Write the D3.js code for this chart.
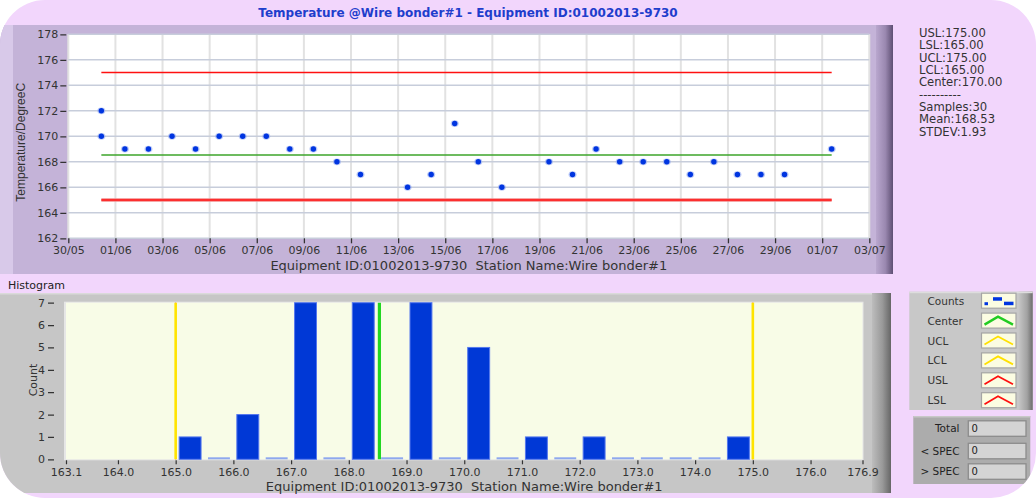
<!DOCTYPE html>
<html><head><meta charset="utf-8">
<script src="https://cdn.jsdelivr.net/npm/d3@7"></script>
<style>
body{margin:0;background:#fff;}
svg{display:block;font-family:"DejaVu Sans",sans-serif;}
</style>
</head><body>
<svg id="c" width="1036" height="498"></svg>
<script>
// ---------------- DATA ----------------
const chartTitle = "Temperature @Wire bonder#1 - Equipment ID:01002013-9730";
const axisTitle = "Equipment ID:01002013-9730  Station Name:Wire bonder#1";
const yTitle = "Temperature/DegreeC";

const sampleDates = ["2013-05-31T09:40","2013-05-31T09:40","2013-06-01T09:40","2013-06-02T09:40","2013-06-03T09:40",
  "2013-06-04T09:40","2013-06-05T09:40","2013-06-06T09:40","2013-06-07T09:40","2013-06-08T09:40",
  "2013-06-09T09:40","2013-06-10T09:40","2013-06-11T09:40","2013-06-13T09:40","2013-06-14T09:40",
  "2013-06-15T09:40","2013-06-16T09:40","2013-06-17T09:40","2013-06-19T09:40","2013-06-20T09:40",
  "2013-06-21T09:40","2013-06-22T09:40","2013-06-23T09:40","2013-06-24T09:40","2013-06-25T09:40",
  "2013-06-26T09:40","2013-06-27T09:40","2013-06-28T09:40","2013-06-29T09:40","2013-07-01T09:40"];
const sampleValues = [172,170,169,169,170,169,170,170,170,169,169,168,167,166,167,171,168,166,168,167,169,168,168,168,167,168,167,167,167,169];

const timeDomain = ["2013-05-30T00:00","2013-07-03T00:00"];
const timeTicks = ["2013-05-30","2013-06-01","2013-06-03","2013-06-05","2013-06-07","2013-06-09","2013-06-11",
  "2013-06-13","2013-06-15","2013-06-17","2013-06-19","2013-06-21","2013-06-23","2013-06-25","2013-06-27",
  "2013-06-29","2013-07-01","2013-07-03"];
const tempDomain = [162,178];
const tempTicks = [162,164,166,168,170,172,174,176,178];

const statNames = ["USL","LSL","UCL","LCL","Center"];
const statValues = [175,165,175,165,170];
const sampleCount = 30;
const meanValue = 168.53;
const stdevValue = 1.93;

const histBinStarts = [165.0,165.5,166.0,166.5,167.0,167.5,168.0,168.5,169.0,169.5,170.0,170.5,171.0,171.5,172.0,172.5,173.0,173.5,174.0,174.5];
const histCounts =    [1,0,2,0,7,0,7,0,7,0,5,0,1,0,1,0,0,0,0,1];
const histDomain = [163.1,176.9];
const histTicks = [163.1,164,165,166,167,168,169,170,171,172,173,174,175,176,176.9];
const countDomain = [0,7];
const countTicks = [0,1,2,3,4,5,6,7];

const legendNames = ["Counts","Center","UCL","LCL","USL","LSL"];
const legendColors = ["#0035E0","#22CC22","#FFE000","#FFE000","#FF1010","#FF1010"];
const specLabels = ["Total","< SPEC","> SPEC"];
const specValues = [0,0,0];

// ---------------- DRAW ----------------
const svg = d3.select("#c");
const W = 1036, H = 498;
const defs = svg.append("defs");
defs.append("clipPath").attr("id","shape").append("rect")
  .attr("x",0).attr("y",0).attr("width",W).attr("height",H).attr("rx",45).attr("ry",45);
function grad(id, stops){
  const g = defs.append("linearGradient").attr("id",id).attr("x1","0").attr("x2","1").attr("y1","0").attr("y2","0");
  stops.forEach(s=>g.append("stop").attr("offset",s[0]).attr("stop-color",s[1]));
}
grad("purpleEdge",[[0,"#B9A7CE"],[0.55,"#9A88B0"],[1,"#5E4F73"]]);
grad("grayEdge",[[0,"#BDBDBD"],[0.55,"#999"],[1,"#666"]]);
grad("legEdge",[[0,"#C6C6C6"],[0.6,"#A2A2A2"],[1,"#6C6C6C"]]);

svg.append("rect").attr("width",W).attr("height",H).attr("fill","#fff");
const root = svg.append("g").attr("clip-path","url(#shape)");
root.append("rect").attr("width",W).attr("height",H).attr("fill","#F2D6FC");

// Title
root.append("text").attr("x",468).attr("y",17).attr("text-anchor","middle")
  .attr("font-size",12).attr("font-weight","bold").attr("fill","#1E3ECC").text(chartTitle);

// ---- Top control chart ----
const T = {x0:68.3, x1:869.3, y0:34.3, y1:238.3};
root.append("rect").attr("x",0).attr("y",25).attr("width",893).attr("height",249).attr("fill","#C4B3D8");
root.append("rect").attr("x",0).attr("y",25).attr("width",13).attr("height",249).attr("fill","#D8C9E9");
root.append("rect").attr("x",876).attr("y",25).attr("width",17).attr("height",249).attr("fill","url(#purpleEdge)");
root.append("rect").attr("x",T.x0).attr("y",T.y0).attr("width",T.x1-T.x0).attr("height",T.y1-T.y0).attr("fill","#fff");

const tParse = s => new Date(s.length===10 ? s+"T00:00" : s);
const x = d3.scaleTime().domain(timeDomain.map(tParse)).range([T.x0,T.x1]);
const y = d3.scaleLinear().domain(tempDomain).range([T.y1,T.y0]);

const tg = root.append("g");
tg.selectAll(".vg").data(timeTicks.map(tParse)).join("line")
  .attr("x1",d=>x(d)).attr("x2",d=>x(d)).attr("y1",T.y0).attr("y2",T.y1)
  .attr("stroke","#E2E2E2").attr("stroke-width",2);
tg.selectAll(".hg").data(tempTicks).join("line")
  .attr("x1",T.x0).attr("x2",T.x1).attr("y1",d=>y(d)).attr("y2",d=>y(d))
  .attr("stroke","#C7CDDB").attr("stroke-width",1.5);

const yAx = tg.append("g").attr("transform",`translate(${T.x0-2},0)`)
  .call(d3.axisLeft(y).tickValues(tempTicks).tickSize(6).tickPadding(2).tickFormat(d3.format("d")));
const xAx = tg.append("g").attr("transform",`translate(0,${T.y1})`)
  .call(d3.axisBottom(x).tickValues(timeTicks.map(tParse)).tickSize(5).tickPadding(3).tickFormat(d3.timeFormat("%d/%m")));
[yAx,xAx].forEach(a=>{
  a.select(".domain").remove();
  a.selectAll("line").attr("stroke","#333").attr("stroke-width",1.3);
  a.selectAll("text").attr("fill","#333").attr("font-size",11).attr("font-family","DejaVu Sans");
});

tg.append("text").attr("x",(T.x0+T.x1)/2).attr("y",270).attr("text-anchor","middle")
  .attr("font-size",13).attr("fill","#333").style("white-space","pre").text(axisTitle);
tg.append("text").attr("transform",`translate(25,${(T.y0+T.y1)/2+6}) rotate(-90)`).attr("text-anchor","middle")
  .attr("font-size",12).attr("font-family","Liberation Sans").attr("fill","#333").text(yTitle);

// spec / center lines spanning the samples
const dates = sampleDates.map(tParse);
const xs0 = x(d3.min(dates)), xs1 = x(d3.max(dates));
const lineVal = (v,color,w)=>tg.append("line").attr("x1",xs0).attr("x2",xs1).attr("y1",y(v)).attr("y2",y(v))
  .attr("stroke",color).attr("stroke-width",w);
lineVal(statValues[1],"#F28A8A",3.5);
lineVal(statValues[0],"#FF1010",1.6);
lineVal(statValues[1],"#FF1010",1.6);
lineVal(meanValue,"#3DA52A",1.6);

const pts = tg.selectAll(".pt").data(sampleValues.map((v,i)=>({d:dates[i],v}))).join("g");
pts.append("ellipse").attr("cx",d=>x(d.d)).attr("cy",d=>y(d.v)).attr("rx",4).attr("ry",3.4)
  .attr("fill","#8FA6F2").attr("opacity",0.6);
pts.append("circle").attr("cx",d=>x(d.d)).attr("cy",d=>y(d.v)).attr("r",2.7).attr("fill","#0035E0");

// Stats text
const statLines = statNames.map((n,i)=>`${n}:${statValues[i].toFixed(2)}`)
  .concat(["----------",`Samples:${sampleCount}`,`Mean:${meanValue.toFixed(2)}`,`STDEV:${stdevValue.toFixed(2)}`]);
root.selectAll(".stat").data(statLines).join("text")
  .attr("x",919).attr("y",(d,i)=>37+i*12.35).attr("font-size",11.6).attr("fill","#333").text(d=>d);

// ---- Histogram ----
root.append("text").attr("x",8).attr("y",289).attr("font-size",11).attr("fill","#222").text("Histogram");
const Hp = {x0:66, x1:862.5, y0:302.7, y1:459.3};
root.append("rect").attr("x",0).attr("y",293).attr("width",891).attr("height",200).attr("fill","#C6C6C6");
root.append("rect").attr("x",0).attr("y",293).attr("width",891).attr("height",1.5).attr("fill","#DADADA");
root.append("rect").attr("x",872).attr("y",293).attr("width",19).attr("height",200).attr("fill","url(#grayEdge)");
root.append("rect").attr("x",Hp.x0-2).attr("y",Hp.y0-1).attr("width",Hp.x1-Hp.x0+3).attr("height",Hp.y1-Hp.y0+2).attr("fill","#E6E6E6");
root.append("rect").attr("x",Hp.x0).attr("y",Hp.y0).attr("width",Hp.x1-Hp.x0).attr("height",Hp.y1-Hp.y0).attr("fill","#F8FCE7");

const hx = d3.scaleLinear().domain(histDomain).range([Hp.x0,Hp.x1]);
const hy = d3.scaleLinear().domain(countDomain).range([Hp.y1,Hp.y0]);
const hg = root.append("g");
const binW = 0.5, barW = 0.38;
hg.selectAll(".bar").data(histBinStarts.map((b,i)=>({b,c:histCounts[i]}))).join("rect")
  .attr("x",d=>hx(d.b+(binW-barW)/2)).attr("width",d=>hx(d.b+(binW+barW)/2)-hx(d.b+(binW-barW)/2))
  .attr("y",d=>d.c>0?hy(d.c):hy(0)-2).attr("height",d=>d.c>0?hy(0)-hy(d.c):2)
  .attr("fill",d=>d.c>0?"#0038D6":"#8FA8EE")
  .attr("stroke",d=>d.c>0?"#5578EE":"none").attr("stroke-width",1);

const vline = (v,color,w)=>hg.append("line").attr("x1",hx(v)).attr("x2",hx(v)).attr("y1",Hp.y0).attr("y2",Hp.y1)
  .attr("stroke",color).attr("stroke-width",w);
vline(statValues[0],"#FF1010",1); vline(statValues[1],"#FF1010",1);
vline(statValues[2],"#FFE400",2.6); vline(statValues[3],"#FFE400",2.6);
vline(meanValue,"#22D622",3.2);

const hyAx = hg.append("g").attr("transform",`translate(54,0)`)
  .call(d3.axisLeft(hy).tickValues(countTicks).tickSize(6).tickPadding(3).tickFormat(d3.format("d")));
const hxAx = hg.append("g").attr("transform",`translate(0,${Hp.y1+1})`)
  .call(d3.axisBottom(hx).tickValues(histTicks).tickSize(4).tickPadding(4).tickFormat(d3.format(".1f")));
[hyAx,hxAx].forEach(a=>{
  a.select(".domain").remove();
  a.selectAll("line").attr("stroke","#333").attr("stroke-width",1.2);
  a.selectAll("text").attr("fill","#333").attr("font-size",11).attr("font-family","DejaVu Sans");
});
hg.append("text").attr("x",(Hp.x0+Hp.x1)/2).attr("y",491).attr("text-anchor","middle")
  .attr("font-size",13).attr("fill","#333").style("white-space","pre").text(axisTitle);
hg.append("text").attr("transform",`translate(37,380) rotate(-90)`).attr("text-anchor","middle")
  .attr("font-size",11).attr("fill","#333").text("Count");

// ---- Legend panel ----
const L = {x:909.3, y:291.7, w:123.4, h:118.3};
root.append("rect").attr("x",L.x).attr("y",L.y).attr("width",L.w).attr("height",L.h).attr("fill","#C8C8C8");
root.append("rect").attr("x",L.x+L.w-14).attr("y",L.y).attr("width",14).attr("height",L.h).attr("fill","url(#legEdge)");
root.append("rect").attr("x",L.x).attr("y",L.y).attr("width",L.w).attr("height",1.5).attr("fill","#DDD");
const rowY = i => 300.7 + i*19.9;
const lg = root.selectAll(".leg").data(legendNames.map((n,i)=>({n,c:legendColors[i],i}))).join("g");
lg.append("text").attr("x",927.5).attr("y",d=>rowY(d.i)+4).attr("font-size",10.5).attr("fill","#333").text(d=>d.n);
lg.append("rect").attr("x",981.5).attr("y",d=>rowY(d.i)-7.5).attr("width",34.5).attr("height",15)
  .attr("fill","#FBFCE2").attr("stroke","#A5A5A5").attr("stroke-width",1.2);
lg.filter(d=>d.i>0).append("polyline")
  .attr("points",d=>{const c=rowY(d.i);return `984.5,${c+4} 998,${c-4} 1013,${c+4}`;})
  .attr("fill","none").attr("stroke",d=>d.c).attr("stroke-width",d=>d.i===1?2.4:1.8);
const cg = lg.filter(d=>d.i===0);
cg.append("rect").attr("x",984.5).attr("y",d=>rowY(0)+1.5).attr("width",3.5).attr("height",3).attr("fill","#0035E0");
cg.append("rect").attr("x",993).attr("y",d=>rowY(0)-3.5).attr("width",9).attr("height",3.5).attr("fill","#0035E0");
cg.append("rect").attr("x",1004).attr("y",d=>rowY(0)+1).attr("width",9.5).attr("height",3.5).attr("fill","#0035E0");

// ---- SPEC panel ----
root.append("rect").attr("x",913.3).attr("y",416).attr("width",117).attr("height",68).attr("fill","#ACACAC");
root.append("rect").attr("x",913.3).attr("y",416).attr("width",117).attr("height",1.5).attr("fill","#C8C8C8");
const sY = [428.3, 450.8, 471.3];
const sg = root.selectAll(".spec").data(specLabels.map((n,i)=>({n,v:specValues[i],i}))).join("g");
sg.append("text").attr("x",959.5).attr("y",d=>sY[d.i]+4).attr("text-anchor","end").attr("font-size",10.5).attr("fill","#222").text(d=>d.n);
sg.append("rect").attr("x",968.3).attr("y",d=>sY[d.i]-7.5).attr("width",57.7).attr("height",15.5)
  .attr("fill","#D4D4D4").attr("stroke","#8C8C8C").attr("stroke-width",1.3);
sg.append("text").attr("x",971.5).attr("y",d=>sY[d.i]+3.5).attr("font-size",10).attr("fill","#222").text(d=>d.v);
</script>
</body></html>
